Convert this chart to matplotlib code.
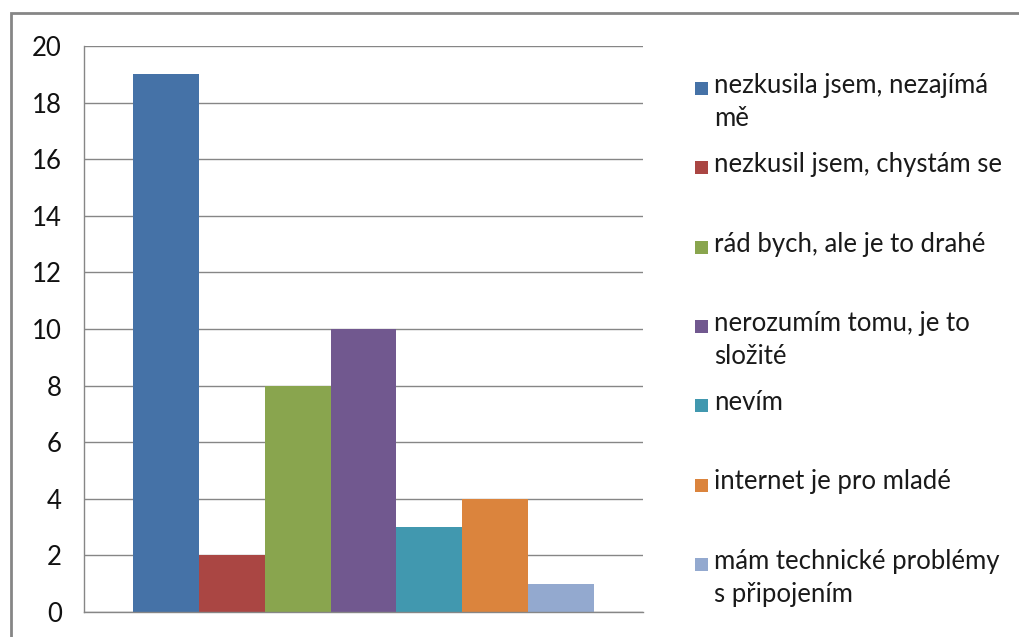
import matplotlib.pyplot as plt
from matplotlib.patches import Rectangle
import numpy as np

categories = [
    "nezkusila jsem, nezajímá\nmě",
    "nezkusil jsem, chystám se",
    "rád bych, ale je to drahé",
    "nerozumím tomu, je to\nsložité",
    "nevím",
    "internet je pro mladé",
    "mám technické problémy\ns připojením",
]
counts = [19, 2, 8, 10, 3, 4, 1]
colors = ["#4572A7", "#AA4643", "#89A54E", "#71588F", "#4198AF", "#DB843D", "#93A9CF"]
yticks = [0, 2, 4, 6, 8, 10, 12, 14, 16, 18, 20]

plt.rcParams["font.family"] = ["Lato", "DejaVu Sans"]

W, H = 1019, 637
fig = plt.figure(figsize=(W / 100, H / 100), dpi=100)
fig.patch.set_facecolor("white")

# outer chart frame (runs off right and bottom edges)
fig.patches.append(Rectangle((11 / W, -0.1), 1.2, 1 - 13 / H + 0.1,
                             transform=fig.transFigure, fill=False,
                             edgecolor="#868686", linewidth=2, zorder=0))

ax = fig.add_axes([84 / W, 1 - 612 / H, (643 - 84) / W, (612 - 46) / H])
gridc = "#868686"

# single category, seven series side by side, gap width ~150 %
n = len(counts)
bw = 1.0 / (n + 1.5)
start = -n * bw / 2
for i, (v, c) in enumerate(zip(counts, colors)):
    ax.bar(start + i * bw, v, width=bw, align="edge", color=c, linewidth=0, zorder=2)

ax.set_xlim(-0.5, 0.5)
ax.set_ylim(0, 20)
ax.set_yticks(yticks)
ax.set_yticklabels([str(t) for t in yticks], fontsize=18.5, color="#111111")
ax.tick_params(axis="y", length=0, pad=16)
ax.set_xticks([])
ax.grid(axis="y", color=gridc, linewidth=1, zorder=1)
for s in ["top", "right"]:
    ax.spines[s].set_visible(False)
ax.spines["left"].set_color(gridc)
ax.spines["bottom"].set_color(gridc)
ax.spines["left"].set_linewidth(1)
ax.spines["bottom"].set_linewidth(1)

# legend on the right, marker aligned with the first text line
y0, dy = 88, 79.3
for i, (lab, c) in enumerate(zip(categories, colors)):
    yc = y0 + i * dy
    fig.patches.append(Rectangle((695 / W, 1 - (yc + 7) / H), 13 / W, 13 / H,
                                 transform=fig.transFigure, facecolor=c,
                                 edgecolor="none"))
    fig.text(714 / W, 1 - (yc - 15) / H, lab, fontsize=18.5, va="top", ha="left",
             color="#1a1a1a", linespacing=1.4)

fig.savefig("out.png", dpi=100)
